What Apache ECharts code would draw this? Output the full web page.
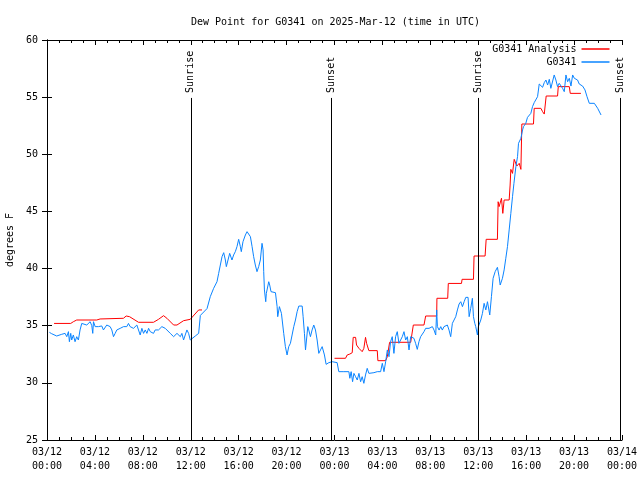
<!DOCTYPE html>
<html><head><meta charset="utf-8">
<script src="https://cdn.jsdelivr.net/npm/echarts@6/dist/echarts.min.js"></script>
<style>html,body{margin:0;padding:0;background:#fff}#c{width:640px;height:480px}</style>
</head><body><div id="c"></div>
<script>
// hours since 2025-03-12 00:00 UTC
const obsHours = [0.20,0.39,0.53,0.81,0.95,1.23,1.51,1.65,1.79,1.87,1.98,2.06,2.20,2.34,2.48,2.62,2.76,2.90,3.04,3.32,3.60,3.74,3.82,3.88,4.02,4.29,4.57,4.71,4.99,5.27,5.41,5.55,5.69,5.83,5.97,6.11,6.39,6.66,6.80,6.94,7.22,7.36,7.50,7.78,7.92,8.06,8.20,8.34,8.48,8.62,8.89,9.03,9.17,9.31,9.59,9.73,9.87,10.01,10.29,10.43,10.57,10.85,11.13,11.26,11.40,11.54,11.68,11.82,11.96,12.10,12.38,12.66,12.80,13.08,13.36,13.49,13.63,13.91,14.19,14.33,14.47,14.61,14.75,14.89,14.97,15.11,15.25,15.44,15.58,15.72,15.86,16.00,16.14,16.22,16.36,16.56,16.70,16.84,16.98,17.12,17.25,17.39,17.53,17.67,17.81,17.95,18.04,18.09,18.15,18.26,18.31,18.43,18.51,18.59,18.70,19.07,19.21,19.26,19.40,19.49,19.57,19.76,19.90,20.04,20.18,20.32,20.46,20.60,20.74,20.88,21.02,21.30,21.38,21.49,21.58,21.66,21.77,21.85,21.99,22.13,22.27,22.41,22.55,22.69,22.83,22.97,23.05,23.16,23.30,23.53,23.81,24.22,24.36,24.78,25.20,25.28,25.39,25.51,25.62,25.76,25.90,26.04,26.18,26.31,26.45,26.59,26.73,26.87,27.01,27.29,27.57,27.85,27.99,28.13,28.27,28.41,28.55,28.68,28.82,28.96,29.10,29.24,29.38,29.52,29.66,29.80,29.94,30.08,30.22,30.36,30.50,30.63,30.77,30.91,31.05,31.19,31.33,31.47,31.61,31.75,31.89,32.03,32.17,32.31,32.45,32.53,32.59,32.73,32.87,33.00,33.14,33.28,33.42,33.56,33.70,33.84,33.98,34.12,34.26,34.40,34.54,34.68,34.82,34.96,35.15,35.24,35.37,35.51,35.60,35.71,35.79,35.93,36.01,36.13,36.21,36.35,36.49,36.63,36.77,36.96,37.10,37.24,37.41,37.60,37.74,37.83,38.02,38.16,38.30,38.44,38.58,38.72,38.86,38.98,39.14,39.28,39.36,39.42,39.56,39.70,39.78,39.97,40.11,40.25,40.39,40.53,40.67,40.81,40.95,41.09,41.23,41.37,41.51,41.65,41.79,41.93,42.06,42.20,42.34,42.48,42.62,42.76,42.90,43.04,43.18,43.32,43.46,43.60,43.74,43.88,44.02,44.16,44.29,44.43,44.71,44.91,45.08,45.27,45.69,45.97,46.25];
const obsDew = [34.42,34.3,34.19,34.1,34.19,34.25,34.33,34.04,34.48,33.6,34.33,33.75,34.19,33.6,34.04,33.75,34.63,35.2,35.35,35.06,35.35,35.0,34.33,35.35,34.92,34.92,34.98,34.63,35.06,34.92,34.63,34.04,34.33,34.63,34.48,34.77,34.92,34.92,35.2,34.92,34.77,34.63,35.06,34.19,34.77,34.33,34.63,34.33,34.77,34.48,34.33,34.63,34.77,34.63,34.92,35.06,34.77,34.63,34.33,34.19,34.04,34.33,34.04,34.33,33.75,34.19,34.63,34.33,33.75,33.9,34.1,34.33,35.9,36.2,36.5,36.67,37.54,38.27,38.85,39.58,40.31,41.04,41.39,40.75,40.17,40.75,41.33,40.75,41.19,41.48,41.92,42.56,41.92,41.48,42.35,42.94,43.23,43.08,42.79,41.92,41.04,40.31,39.73,40.17,40.75,42.21,41.63,39.73,38.13,37.1,37.83,37.98,38.85,38.56,37.98,37.89,36.67,35.79,36.67,36.72,36.08,34.33,33.17,32.44,33.17,33.46,34.19,34.92,35.5,36.23,36.72,36.72,35.79,34.33,32.88,33.75,34.92,34.63,34.04,34.63,35.06,34.63,33.75,32.58,32.88,33.17,33.31,32.44,31.62,31.77,31.85,31.77,30.98,30.98,30.98,30.4,30.98,30.1,30.83,30.54,30.25,30.83,30.1,30.54,29.96,30.69,31.27,30.83,30.98,30.89,30.98,30.98,31.71,30.98,31.85,32.88,32.29,33.6,34.04,32.58,34.04,34.48,33.46,33.75,34.04,34.48,33.75,34.04,32.88,34.04,34.04,33.9,33.46,32.93,33.6,34.04,34.19,34.48,34.77,34.92,34.77,34.62,34.92,34.62,34.19,36.38,34.92,34.62,34.92,34.62,34.92,34.77,35.06,34.62,34.04,35.21,35.5,35.79,36.38,36.9,37.1,36.67,37.1,37.48,37.48,35.79,36.52,37.4,35.79,35.21,34.92,34.19,34.92,35.06,35.5,36.08,36.96,36.38,37.1,35.94,37.54,39.15,39.73,40.11,39.29,38.56,39.15,39.88,40.9,41.92,43.38,44.83,46.29,47.46,48.92,49.79,50.96,50.81,51.4,52.13,52.42,52.71,53.23,53.35,53.58,54.17,54.52,54.6,55.04,56.15,56.21,55.86,56.27,56.5,56.06,56.56,55.77,55.86,56.94,56.5,55.92,56.21,56.06,55.77,55.48,56.94,56.35,56.65,55.97,56.94,56.65,56.79,56.5,56.15,55.97,55.63,55.04,54.46,54.46,54.02,53.44];
const anaHours = [0.59,1.98,2.20,2.48,4.15,4.43,6.38,6.61,6.89,7.64,8.89,9.31,9.73,10.01,10.57,10.85,11.40,11.96,12.66,12.94,18.0,24.00,24.92,25.06,25.28,25.34,25.48,25.56,25.76,25.84,25.95,26.04,26.18,26.31,26.45,26.54,26.59,26.68,26.87,27.57,27.62,28.27,28.41,28.60,30.36,30.50,30.58,31.47,31.61,32.53,32.55,33.45,33.50,34.60,34.65,35.60,35.65,36.57,36.66,37.60,37.66,37.74,37.83,37.94,38.05,38.16,38.58,38.66,38.72,38.86,39.00,39.22,39.42,39.56,39.64,40.61,40.67,41.23,41.37,41.51,41.67,42.62,42.68,43.60,43.68,44.57];
const anaDew = [35.2,35.2,35.35,35.5,35.5,35.59,35.65,35.85,35.79,35.3,35.3,35.56,35.88,35.65,35.06,35.06,35.44,35.56,36.38,36.38,null,32.15,32.15,32.44,32.52,32.58,32.64,33.98,33.98,33.31,33.46,33.02,32.88,32.73,33.02,33.02,33.98,33.46,32.82,32.82,31.94,31.94,32.29,33.55,33.55,33.46,35.06,35.06,35.85,35.85,37.4,37.4,38.7,38.7,39.06,39.06,41.1,41.1,42.56,42.56,45.85,45.42,45.27,46.15,44.83,46.0,46.0,47.31,48.68,48.33,49.56,48.97,49.21,48.68,52.65,52.65,54.02,54.02,53.73,53.52,55.1,55.1,55.92,55.92,55.33,55.33];
const sunTimes = [12.0, 23.71, 35.98, 47.83];
const sunNames = ['Sunrise', 'Sunset', 'Sunrise', 'Sunset'];
const yMin = 25, yMax = 60, yStep = 5;
const xMin = 0, xMax = 48, xStep = 4;
const labelTop = 54.93;

const FONT = "'DejaVu Sans Mono', monospace";
const chart = echarts.init(document.getElementById('c'), null, {renderer: 'canvas'});
const pad2 = n => (n < 10 ? '0' : '') + n;
function fmtX(v) {
  const day = 12 + Math.floor(v / 24);
  const hh = v % 24;
  return '03/' + pad2(day) + '\n' + pad2(hh) + ':00';
}
const markData = [];
sunTimes.forEach((t, i) => {
  markData.push([{coord: [t, yMin], label: {show: false}}, {coord: [t, labelTop]}]);
  markData.push([{coord: [t, labelTop], lineStyle: {color: 'rgba(0,0,0,0)', width: 0},
    label: {show: true, formatter: sunNames[i], position: 'insideStart', distance: 5,
            color: '#000', fontFamily: FONT, fontSize: 10}}, {coord: [t, yMax]}]);
});
const axisCommon = {
  type: 'value', min: xMin, max: xMax, interval: xStep,
  axisLine: {lineStyle: {color: '#000', width: 1}},
  axisTick: {inside: true, length: 5, lineStyle: {color: '#000'}},
  minorTick: {show: true, splitNumber: 4, length: 3, lineStyle: {color: '#000'}},
  splitLine: {show: false}, minorSplitLine: {show: false}
};
const yCommon = {
  type: 'value', min: yMin, max: yMax, interval: yStep,
  axisLine: {show: true, lineStyle: {color: '#000', width: 1}},
  axisTick: {show: true, inside: true, length: 5, lineStyle: {color: '#000'}},
  splitLine: {show: false}
};
const legendCommon = {orient: 'vertical', align: 'right', right: 30.5, padding: 0, icon: 'rect',
  itemWidth: 28, itemHeight: 1.5, textStyle: {fontFamily: FONT, fontSize: 10, color: '#000'}};
chart.setOption({
  animation: false,
  backgroundColor: '#fff',
  title: {text: 'Dew Point for G0341 on 2025-Mar-12 (time in UTC)', left: 186, top: 12,
    textStyle: {fontFamily: FONT, fontSize: 10, fontWeight: 'normal', color: '#000'}},
  grid: {left: 47, right: 18, top: 40, bottom: 40, containLabel: false, outerBoundsMode: 'none'},
  legend: [
    Object.assign({}, legendCommon, {data: ['G0341 Analysis'], top: 44}),
    Object.assign({}, legendCommon, {data: ['G0341'], top: 57})
  ],
  xAxis: [
    Object.assign({}, axisCommon, {position: 'bottom',
      axisLabel: {formatter: fmtX, fontFamily: FONT, fontSize: 10, color: '#000', lineHeight: 14, margin: 5}}),
    Object.assign({}, axisCommon, {position: 'top', axisLabel: {show: false}})
  ],
  yAxis: [
    Object.assign({}, yCommon, {position: 'left', name: 'degrees F', nameLocation: 'middle', nameGap: 29.5,
      nameRotate: 90, nameTextStyle: {fontFamily: FONT, fontSize: 10, color: '#000'},
      axisLabel: {fontFamily: FONT, fontSize: 10, color: '#000', margin: 9}}),
    Object.assign({}, yCommon, {position: 'right', axisLabel: {show: false}})
  ],
  series: [
    {name: 'G0341 Analysis', type: 'line', symbol: 'none', connectNulls: false,
     lineStyle: {color: '#ff0000', width: 1}, itemStyle: {color: '#ff0000'},
     data: anaHours.map((h, i) => [h, anaDew[i] === null ? '-' : anaDew[i]])},
    {name: 'G0341', type: 'line', symbol: 'none',
     lineStyle: {color: '#0a84ff', width: 1}, itemStyle: {color: '#0a84ff'},
     data: obsHours.map((h, i) => [h, obsDew[i]]),
     markLine: {silent: true, symbol: ['none', 'none'], animation: false,
       lineStyle: {color: '#000', width: 1, type: 'solid'},
       data: markData}}
  ]
});
</script></body></html>
